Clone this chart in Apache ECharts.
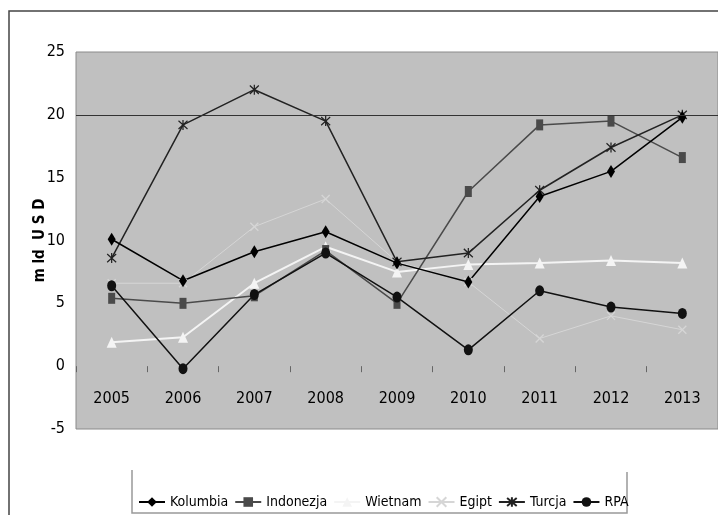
<!DOCTYPE html>
<html>
<head>
<meta charset="utf-8">
<script src="https://cdn.jsdelivr.net/npm/echarts@6/dist/echarts.min.js"></script>
<style>
html,body{margin:0;padding:0;background:#fff;}
#c{width:718px;height:515px;}
</style>
</head>
<body>
<div id="c"></div>
<script>
const years = ['2005','2006','2007','2008','2009','2010','2011','2012','2013'];
const kolumbia  = [10.1, 6.8, 9.1, 10.7, 8.2, 6.7, 13.5, 15.5, 19.8];
const indonezja = [5.4, 5.0, 5.6, 9.2, 5.0, 13.9, 19.2, 19.5, 16.6];
const wietnam   = [1.9, 2.3, 6.6, 9.5, 7.5, 8.1, 8.2, 8.4, 8.2];
const egipt     = [6.6, 6.6, 11.1, 13.3, 8.3, 6.7, 2.2, 4.0, 2.9];
const turcja    = [8.6, 19.2, 22.0, 19.5, 8.3, 9.0, 14.0, 17.4, 20.0];
const rpa       = [6.4, -0.2, 5.7, 9.0, 5.5, 1.3, 6.0, 4.7, 4.2];
const gridLineValue = 20;

const FONT = '"Liberation Sans Narrow", "Arial Narrow", "DejaVu Sans Condensed", "Liberation Sans", sans-serif';
const X_PATH = 'path://M0,0L10,10M10,0L0,10';
const AST_PATH = 'path://M0,0L10,10M10,0L0,10M5,-1L5,11';

function mk(name, data, color, width, symbol, size, extra) {
  return Object.assign({
    name: name, type: 'line', data: data,
    symbol: symbol, symbolSize: size, showAllSymbol: true,
    lineStyle: {color: color, width: width},
    itemStyle: {color: color},
    emphasis: {disabled: true},
    animation: false
  }, extra || {});
}

const chart = echarts.init(document.getElementById('c'));
chart.setOption({
  backgroundColor: '#ffffff',
  animation: false,
  graphic: [
    {type: 'polyline', silent: true, z: 0, shape: {points: [[9,515],[9,11],[718,11]]},
     style: {stroke: '#444', lineWidth: 1.5, fill: null}},
    {type: 'polyline', silent: true, z: 0, shape: {points: [[132,470],[132,513],[627,513],[627,472]]},
     style: {stroke: '#999', lineWidth: 1.5, fill: null}}
  ],
  grid: {left: 76, top: 52, width: 644, height: 377, show: true,
         backgroundColor: '#c0c0c0', borderColor: '#8a8a8a', borderWidth: 1, containLabel: false},
  legend: {
    left: 132, top: 470, padding: [25, 6, 0, 6],
    itemWidth: 26, itemHeight: 12, itemGap: 6,
    textStyle: {fontFamily: FONT, fontSize: 14, color: '#000'},
    data: ['Kolumbia','Indonezja','Wietnam','Egipt','Turcja','RPA']
  },
  xAxis: {
    type: 'category', data: years, boundaryGap: true,
    axisLine: {show: true, onZero: true, lineStyle: {color: 'rgba(0,0,0,0)', width: 0}},
    axisTick: {show: true, interval: 0, length: 6, lineStyle: {color: '#666'}},
    axisLabel: {fontFamily: FONT, fontSize: 16, color: '#000', margin: -38, interval: 0},
    splitLine: {show: false}
  },
  yAxis: {
    type: 'value', min: -5, max: 25, interval: 5,
    name: 'm ld  U S D', nameLocation: 'middle', nameRotate: 90, nameGap: 28, nameMoveOverlap: false,
    nameTextStyle: {fontFamily: FONT, fontSize: 15, fontWeight: 'bold', color: '#000'},
    axisLine: {show: false}, axisTick: {show: false},
    axisLabel: {fontFamily: FONT, fontSize: 16, color: '#000', margin: 11},
    splitLine: {show: false}
  },
  series: [
    mk('Egipt', egipt, '#d6d6d6', 1, X_PATH, [8,8],
       {itemStyle: {color: '#d6d6d6', borderColor: '#d6d6d6', borderWidth: 1.3},
        markLine: {silent: true, symbol: 'none', label: {show: false},
                   lineStyle: {color: '#333', width: 1, type: 'solid'},
                   data: [{yAxis: gridLineValue}]}}),
    mk('Wietnam', wietnam, '#f4f4f4', 2, 'triangle', [10,11]),
    mk('Indonezja', indonezja, '#4a4a4a', 1.5, 'rect', [7,11]),
    mk('Turcja', turcja, '#222222', 1.5, AST_PATH, [9,10],
       {itemStyle: {color: '#222222', borderColor: '#222222', borderWidth: 1.3}}),
    mk('RPA', rpa, '#111111', 1.5, 'circle', [9,11]),
    mk('Kolumbia', kolumbia, '#000000', 1.5, 'diamond', [8,13])
  ]
});
</script>
</body>
</html>
